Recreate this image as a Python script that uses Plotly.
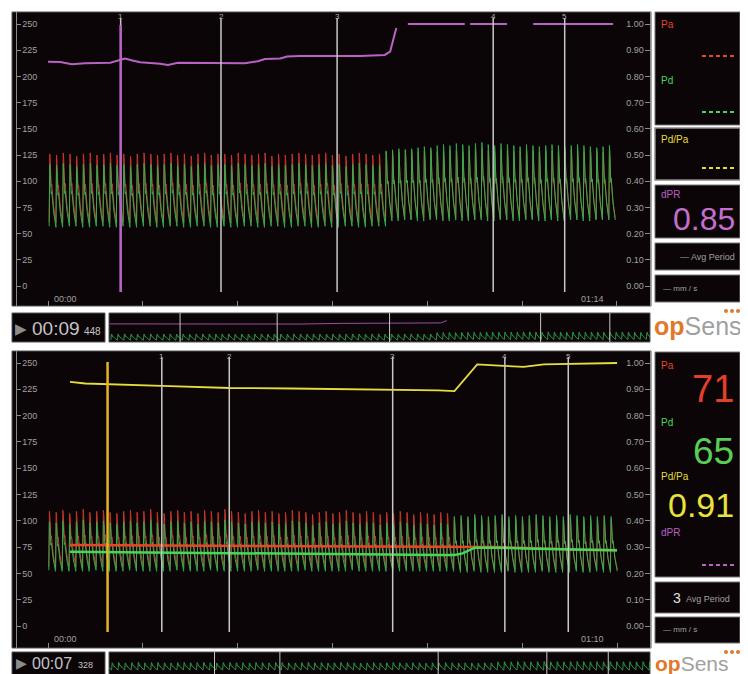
import plotly.graph_objects as go

# page body has an 8px margin: the figure is drawn from (8, 8) of the window
OFF = 8
W, H = 740, 666

# ---------------- data ----------------
# beat template (fraction of beat, fraction of pulse amplitude)
beat_phase = [0.0, 0.09, 0.15, 0.30, 0.38, 0.65, 1.0]
beat_level = [0.0, 1.0, 0.93, 0.52, 0.56, 0.24, 0.0]

# ---- top recording (01:14) ----
top_start = 0.15
top_rr = [0.88, 0.87, 0.88, 0.86, 0.88, 0.89, 0.87, 0.88, 0.87, 0.86,
          0.88, 0.88, 0.87, 0.89, 0.88, 0.87, 0.86, 0.88, 0.87, 0.88,
          0.89, 0.87, 0.88, 0.86, 0.87, 0.88, 0.88, 0.87, 0.89, 0.88,
          0.87, 0.86, 0.88, 0.87, 0.88, 0.89, 0.87, 0.88, 0.86, 0.87,
          0.88, 0.87, 0.88, 0.89, 0.87, 0.86, 0.88, 0.87, 0.88, 0.87,
          0.83, 0.82, 0.84, 0.83, 0.83, 0.82, 0.84, 0.83, 0.82, 0.83,
          0.84, 0.83, 0.82, 0.83, 0.84, 0.83, 0.83, 0.82, 0.84, 0.83,
          0.82, 0.83, 0.84, 0.83, 0.83, 0.82, 0.83, 0.84, 0.83, 0.82,
          0.83, 0.84, 0.83, 0.82, 0.83, 0.83]
top_pa_sys = [126, 125, 127, 126, 124, 126, 127, 125, 126, 127,
              125, 126, 124, 126, 127, 126, 125, 126, 127, 125,
              126, 124, 126, 127, 125, 126, 126, 125, 127, 126,
              125, 126, 127, 124, 126, 125, 126, 127, 126, 125,
              126, 127, 125, 126, 124, 126, 127, 126, 125, 126,
              128, 129, 128, 130, 129, 128, 129, 130, 128, 129,
              130, 129, 128, 129, 130, 131, 129, 128, 130, 129,
              128, 129, 130, 129, 128, 130, 129, 128, 129, 130,
              129, 128, 130, 129, 128, 129]
top_pa_dia = [61, 60, 61, 62, 61, 60, 61, 61, 62, 60,
              61, 61, 60, 62, 61, 61, 60, 61, 62, 61,
              60, 61, 61, 62, 60, 61, 61, 60, 62, 61,
              61, 60, 61, 62, 61, 60, 61, 61, 62, 60,
              61, 61, 60, 62, 61, 61, 60, 61, 62, 61,
              65, 66, 65, 64, 65, 66, 65, 65, 64, 66,
              65, 65, 66, 64, 65, 65, 66, 65, 64, 65,
              66, 65, 65, 64, 65, 66, 65, 65, 64, 66,
              65, 65, 66, 64, 65, 65]
top_pd_sys = [116, 115, 117, 116, 114, 116, 117, 115, 116, 117,
              115, 116, 114, 116, 117, 116, 115, 116, 117, 115,
              116, 114, 116, 117, 115, 116, 116, 115, 117, 116,
              115, 116, 117, 114, 116, 115, 116, 117, 116, 115,
              116, 117, 115, 116, 114, 116, 117, 116, 115, 116,
              129, 130, 131, 130, 131, 132, 133, 132, 134, 135,
              134, 136, 135, 134, 136, 137, 135, 134, 136, 135,
              134, 133, 135, 134, 133, 134, 135, 134, 133, 134,
              135, 134, 133, 132, 133, 134]
top_pd_dia = [57, 56, 57, 58, 57, 56, 57, 57, 58, 56,
              57, 57, 56, 58, 57, 57, 56, 57, 58, 57,
              56, 57, 57, 58, 56, 57, 57, 56, 58, 57,
              57, 56, 57, 58, 57, 56, 57, 57, 58, 56,
              57, 57, 56, 58, 57, 57, 56, 57, 58, 57,
              63, 62, 63, 64, 63, 62, 63, 63, 64, 62,
              63, 63, 62, 64, 63, 63, 62, 63, 64, 63,
              62, 63, 63, 64, 62, 63, 63, 62, 64, 63,
              63, 62, 63, 64, 63, 63]
top_dpr_t = [0.0, 1.6, 3.1, 4.8, 8.1, 9.1, 10.0, 11.1, 12.0, 14.6, 15.6, 16.9,
             19.8, 23.7, 25.6, 27.3, 28.2, 30.2, 31.1, 32.8, 38.0, 40.6, 43.8,
             44.5, 44.9, 45.3, None,
             46.8, 54.2, None, 54.9, 59.7, None, 63.1, 73.5]
top_dpr = [0.856, 0.855, 0.846, 0.850, 0.852, 0.862, 0.868, 0.860, 0.854, 0.848,
           0.844, 0.852, 0.852, 0.852, 0.850, 0.858, 0.866, 0.868, 0.876, 0.878,
           0.878, 0.878, 0.882, 0.895, 0.940, 0.985, None,
           1.0, 1.0, None, 1.0, 1.0, None, 1.0, 1.0]
top_dpr_solid_n = 26          # points of the continuous part (shown in the overview strip)
top_markers = [9.45, 22.5, 37.6, 57.9, 67.2]
top_cursor = 9.448
top_time_ticks = [0, 12.33, 24.67, 37.0, 49.33, 61.67, 74]
top_time_labels = ["00:00", "01:14"]

# ---- bottom recording (01:10) ----
bot_start = 0.1
bot_rr = [0.83, 0.82, 0.84, 0.83, 0.83, 0.82, 0.84, 0.83, 0.82, 0.83,
          0.84, 0.83, 0.82, 0.83, 0.84, 0.82, 0.83, 0.83, 0.84, 0.82,
          0.83, 0.84, 0.82, 0.83, 0.83, 0.84, 0.82, 0.83, 0.84, 0.83,
          0.82, 0.83, 0.84, 0.83, 0.82, 0.83, 0.83, 0.84, 0.82, 0.83,
          0.84, 0.83, 0.82, 0.83, 0.83, 0.84, 0.82, 0.83, 0.84, 0.82,
          0.83, 0.83, 0.84, 0.82, 0.83, 0.84, 0.83, 0.82, 0.83, 0.84,
          0.84, 0.83, 0.85, 0.84, 0.83, 0.84, 0.85, 0.83, 0.84, 0.83,
          0.84, 0.85, 0.83, 0.84, 0.84, 0.83, 0.85, 0.84, 0.83, 0.84,
          0.83, 0.84, 0.85, 0.84]
bot_pa_sys = [109, 108, 110, 107, 109, 111, 108, 109, 110, 108,
              107, 109, 110, 108, 109, 111, 108, 107, 109, 110,
              108, 109, 107, 110, 109, 108, 111, 109, 108, 107,
              109, 110, 108, 109, 107, 108, 110, 109, 108, 106,
              108, 109, 107, 108, 110, 108, 107, 109, 108, 106,
              108, 107, 109, 108, 106, 108, 107, 106, 108, 107,
              101, 102, 101, 103, 102, 101, 102, 103, 101, 102,
              101, 102, 103, 102, 101, 102, 101, 103, 102, 101,
              102, 101, 102, 101]
bot_pa_dia = [56, 55, 56, 57, 56, 55, 56, 56, 57, 55,
              56, 56, 55, 57, 56, 56, 55, 56, 57, 56,
              55, 56, 56, 57, 55, 56, 56, 55, 57, 56,
              56, 55, 56, 57, 56, 55, 56, 56, 57, 55,
              56, 56, 55, 57, 56, 56, 55, 56, 57, 56,
              55, 56, 56, 55, 56, 55, 56, 56, 55, 56,
              54, 53, 54, 54, 53, 54, 54, 53, 54, 54,
              53, 54, 54, 53, 54, 54, 53, 54, 54, 53,
              54, 54, 53, 54]
bot_pd_sys = [99, 98, 100, 97, 99, 101, 98, 99, 100, 98,
              97, 99, 100, 98, 99, 101, 98, 97, 99, 100,
              98, 99, 97, 100, 99, 98, 101, 99, 98, 97,
              99, 100, 98, 99, 97, 98, 100, 99, 98, 96,
              98, 99, 97, 98, 100, 98, 97, 99, 98, 96,
              98, 97, 99, 98, 96, 98, 97, 96, 98, 97,
              104, 105, 104, 106, 105, 104, 105, 106, 104, 105,
              104, 105, 106, 105, 104, 105, 104, 106, 105, 104,
              105, 104, 105, 104]
bot_pd_dia = [53, 52, 53, 52, 53, 52, 53, 53, 52, 53,
              52, 53, 53, 52, 53, 52, 53, 52, 53, 53,
              52, 53, 52, 53, 53, 52, 53, 52, 53, 52,
              53, 53, 52, 53, 52, 53, 52, 53, 53, 52,
              53, 52, 53, 52, 53, 53, 52, 53, 52, 53,
              52, 53, 52, 53, 52, 52, 53, 52, 52, 53,
              52, 51, 52, 52, 51, 52, 51, 52, 52, 51,
              52, 51, 52, 52, 51, 52, 51, 52, 52, 51,
              52, 52, 51, 52]
bot_mean_t = [2.7, 10.0, 20.0, 30.0, 40.0, 48.0, 50.0, 51.0, 52.5, 55.0, 60.0, 65.0, 70.0]
bot_pa_mean = [77.0, 76.8, 76.5, 76.0, 75.6, 75.5, 75.2, 75.0, 75.0, 75.0, 74.0, 72.5, 72.0]
bot_pd_mean = [70.6, 70.0, 69.2, 68.5, 68.0, 67.5, 67.5, 69.0, 74.5, 74.5, 73.5, 72.5, 72.0]
bot_pdpa_t = [2.7, 4.6, 14.0, 22.3, 30.0, 40.8, 48.0, 50.0, 51.0, 52.8, 55.5, 58.5, 61.0, 65.0, 70.0]
bot_pdpa = [0.928, 0.922, 0.913, 0.905, 0.903, 0.900, 0.896, 0.893, 0.930, 0.995,
            0.990, 0.985, 0.995, 0.998, 1.000]
bot_markers = [14.0, 22.3, 42.4, 56.2, 64.0]
bot_cursor = 7.328
bot_time_ticks = [0, 11.67, 23.33, 35.0, 46.67, 58.33, 70]
bot_time_labels = ["00:00", "01:10"]

marker_labels = ["1", "2", "3", "4", "5"]
left_ticks = [0, 25, 50, 75, 100, 125, 150, 175, 200, 225, 250]
right_ticks = [0.0, 0.1, 0.2, 0.3, 0.4, 0.5, 0.6, 0.7, 0.8, 0.9, 1.0]

# ---------------- styling ----------------
PA_C = "rgb(210,58,44)"
PD_C = "rgb(48,178,82)"
PAM_C = "rgb(232,70,40)"
PDM_C = "rgb(70,215,90)"
DPR_C = "rgb(186,98,196)"
PDPA_C = "rgb(228,222,60)"
GRID_C = "#8a8a8a"
TXT_C = "#a0a0a0"
PANEL = "#0c0508"
FONT = "Liberation Sans, Arial, sans-serif"


def X(px):
    return (px - OFF) / W


def Y(py):
    return 1 - (py - OFF) / H


def build_wave(start, rr, sys_, dia_):
    xs, ys = [], []
    t0 = start
    for d, s, lo in zip(rr, sys_, dia_):
        for ph, lv in zip(beat_phase, beat_level):
            xs.append(t0 + ph * d)
            ys.append(lo + lv * (s - lo))
        t0 += d
    return xs, ys


top_pa_x, top_pa_y = build_wave(top_start, top_rr, top_pa_sys, top_pa_dia)
top_pd_x, top_pd_y = build_wave(top_start, top_rr, top_pd_sys, top_pd_dia)
bot_pa_x, bot_pa_y = build_wave(bot_start, bot_rr, bot_pa_sys, bot_pa_dia)
bot_pd_x, bot_pd_y = build_wave(bot_start, bot_rr, bot_pd_sys, bot_pd_dia)

fig = go.Figure()


def add(x, y, color, width, xa, ya, opacity=1.0):
    fig.add_trace(go.Scatter(x=x, y=y, mode="lines", xaxis=xa, yaxis=ya,
                             line=dict(color=color, width=width),
                             opacity=opacity, hoverinfo="skip",
                             connectgaps=False, showlegend=False))


add(top_pa_x, top_pa_y, PA_C, 1, "x", "y", 0.95)
add(top_pd_x, top_pd_y, PD_C, 1, "x", "y", 0.95)
add(top_dpr_t, top_dpr, DPR_C, 2, "x", "y2")

add(bot_pa_x, bot_pa_y, PA_C, 1, "x3", "y3", 0.95)
add(bot_pd_x, bot_pd_y, PD_C, 1, "x3", "y3", 0.95)
add(bot_mean_t, bot_pa_mean, PAM_C, 2.5, "x3", "y3")
add(bot_mean_t, bot_pd_mean, PDM_C, 2.5, "x3", "y3")
add(bot_pdpa_t, bot_pdpa, PDPA_C, 1.8, "x3", "y4")

add(top_pd_x, top_pd_y, PD_C, 0.8, "x5", "y5")
add(top_dpr_t[:top_dpr_solid_n], top_dpr[:top_dpr_solid_n], DPR_C, 1, "x5", "y7", 0.8)
add(bot_pd_x, bot_pd_y, PD_C, 0.8, "x6", "y6")

# pixel geometry of the two main panels (window pixels)
T_PPS, T_X0 = 7.689, 48      # top: px per second, px of t=0
T_PPU, T_Y0 = 1.048, 286     # top: px per mmHg, px of 0 mmHg
B_PPS, B_X0 = 8.129, 48
B_PPU, B_Y0 = 1.052, 626

top_xr = [(17 - T_X0) / T_PPS, (650 - T_X0) / T_PPS]
top_yr = [(T_Y0 - 306) / T_PPU, (T_Y0 - 12) / T_PPU]
bot_xr = [(17 - B_X0) / B_PPS, (650 - B_X0) / B_PPS]
bot_yr = [(B_Y0 - 648) / B_PPU, (B_Y0 - 351) / B_PPU]

tick_font = dict(size=9, color=TXT_C, family=FONT)


def xax(dom, rng, anchor, ticks):
    return dict(domain=dom, range=rng, anchor=anchor, tickvals=ticks,
                ticks="inside", ticklen=5, tickcolor=GRID_C, tickwidth=1,
                showticklabels=False, showgrid=False, zeroline=False,
                showline=False, fixedrange=True)


def yax(dom, rng, anchor):
    return dict(domain=dom, range=rng, anchor=anchor, tickvals=left_ticks,
                ticks="inside", ticklen=4, tickcolor=GRID_C,
                ticklabelposition="inside", tickfont=tick_font,
                showline=True, linecolor=GRID_C, linewidth=1,
                showgrid=False, zeroline=False, automargin=False,
                fixedrange=True)


def y2ax(over, rng, anchor):
    return dict(overlaying=over, side="right", anchor=anchor,
                range=[rng[0] / 250, rng[1] / 250], tickvals=right_ticks,
                tickformat=".2f", ticks="inside", ticklen=5,
                tickcolor=GRID_C, ticklabelposition="inside",
                tickfont=tick_font, showline=True, linecolor=GRID_C,
                linewidth=1, showgrid=False, zeroline=False,
                automargin=False, fixedrange=True)


hidden = dict(visible=False, fixedrange=True)

shapes = []


def rect(x0, y0, x1, y1, fill=PANEL, line="#555", lw=1):
    shapes.append(dict(type="rect", xref="paper", yref="paper",
                       x0=X(x0), x1=X(x1), y0=Y(y1), y1=Y(y0),
                       fillcolor=fill, line=dict(color=line, width=lw),
                       layer="below"))


# panels
rect(12, 12, 651, 306)
rect(12, 313, 105, 342)
rect(109, 313, 650, 342)
rect(655, 12, 740, 125, line="#777")
rect(655, 128, 740, 180, line="#8a8a8a", lw=1.5)
rect(655, 185, 740, 238, line="#777")
rect(655, 243, 740, 270, line="#777")
rect(655, 275, 740, 302, line="#777")
rect(12, 351, 651, 648)
rect(12, 652, 105, 678)
rect(109, 652, 650, 678)
rect(655, 352, 740, 577, line="#777")
rect(655, 582, 740, 613, line="#777")
rect(655, 617, 740, 643, line="#777")

# marker lines
for t in top_markers:
    shapes.append(dict(type="line", xref="x", yref="y", x0=t, x1=t,
                       y0=(T_Y0 - 292) / T_PPU, y1=(T_Y0 - 18) / T_PPU,
                       line=dict(color="#c8c8c8", width=1.5)))
    shapes.append(dict(type="line", xref="x5", yref="y5 domain", x0=t, x1=t,
                       y0=0, y1=1, line=dict(color="#c8c8c8", width=1)))
for t in bot_markers:
    shapes.append(dict(type="line", xref="x3", yref="y3", x0=t, x1=t,
                       y0=(B_Y0 - 632) / B_PPU, y1=(B_Y0 - 357) / B_PPU,
                       line=dict(color="#c8c8c8", width=1.5)))
    shapes.append(dict(type="line", xref="x6", yref="y6 domain", x0=t, x1=t,
                       y0=0, y1=1, line=dict(color="#c8c8c8", width=1)))
# cursors
shapes.append(dict(type="line", xref="x", yref="y", x0=top_cursor, x1=top_cursor,
                   y0=(T_Y0 - 292) / T_PPU, y1=(T_Y0 - 25) / T_PPU,
                   line=dict(color="rgb(186,98,196)", width=2.5)))
shapes.append(dict(type="line", xref="x3", yref="y3", x0=bot_cursor, x1=bot_cursor,
                   y0=(B_Y0 - 632) / B_PPU, y1=(B_Y0 - 362) / B_PPU,
                   line=dict(color="rgb(226,182,36)", width=2.5)))

# "no value" dashes in side panels
for (x0, x1, yy, c) in [(702, 736, 56, PAM_C), (702, 736, 112, PDM_C),
                        (702, 736, 168, PDPA_C), (702, 736, 565, DPR_C)]:
    shapes.append(dict(type="line", xref="paper", yref="paper",
                       x0=X(x0), x1=X(x1), y0=Y(yy), y1=Y(yy),
                       line=dict(color=c, width=2, dash="4px,3px")))

# logo dots
for cy in [311, 652]:
    for cx in [726, 732, 738]:
        shapes.append(dict(type="circle", xref="paper", yref="paper",
                           x0=X(cx - 2), x1=X(cx + 2), y0=Y(cy + 2), y1=Y(cy - 2),
                           fillcolor="#e2782a", line=dict(width=0)))

ann = []


def txt(px, py, s, size, color, anchor="left", ya="middle"):
    ann.append(dict(x=X(px), y=Y(py), xref="paper", yref="paper", text=s,
                    showarrow=False, xanchor=anchor, yanchor=ya,
                    font=dict(size=size, color=color, family=FONT)))


# marker numbers
for t, lab in zip(top_markers, marker_labels):
    ann.append(dict(x=t, y=(T_Y0 - 17) / T_PPU, xref="x", yref="y", text=lab,
                    showarrow=False, font=dict(size=8, color="#b0b0b0", family=FONT)))
for t, lab in zip(bot_markers, marker_labels):
    ann.append(dict(x=t, y=(B_Y0 - 356) / B_PPU, xref="x3", yref="y3", text=lab,
                    showarrow=False, font=dict(size=8, color="#b0b0b0", family=FONT)))

# time labels
txt(52, 299, top_time_labels[0], 9, TXT_C)
txt(606, 299, top_time_labels[1], 9, TXT_C, "right")
txt(52, 639, bot_time_labels[0], 9, TXT_C)
txt(606, 639, bot_time_labels[1], 9, TXT_C, "right")

# cursor time boxes
txt(21, 328, "▶", 15, "#8c8c8c", "center")
txt(30, 328, "00:09", 19, "#c4c4c4")
txt(82, 331, "448", 10, "#c4c4c4")
txt(21, 663, "▶", 14, "#8c8c8c", "center")
txt(30, 663, "00:07", 16, "#c4c4c4")
txt(76, 665, "328", 9, "#c4c4c4")

# side panel top
txt(659, 24, "Pa", 10, PAM_C)
txt(659, 80, "Pd", 10, PDM_C)
txt(659, 139, "Pd/Pa", 10, PDPA_C)
txt(659, 195, "dPR", 10, DPR_C)
txt(737, 219, "0.85", 32, "rgb(196,110,206)", "right")
txt(737, 257, "— Avg Period", 9, TXT_C, "right")
txt(661, 288, "— mm / s", 8, TXT_C)

# side panel bottom
txt(659, 365, "Pa", 10, PAM_C)
txt(736, 389, "71", 38, "rgb(226,64,40)", "right")
txt(659, 422, "Pd", 10, PDM_C)
txt(736, 451, "65", 37, "rgb(88,206,84)", "right")
txt(659, 477, "Pd/Pa", 10, PDPA_C)
txt(736, 505, "0.91", 34, "rgb(232,226,60)", "right")
txt(659, 532, "dPR", 10, DPR_C)
txt(677, 598, "3", 14, "#e0e0e0", "center")
txt(684, 599, "Avg Period", 9, TXT_C)
txt(661, 629, "— mm / s", 8, TXT_C)

# logos
logo = "<b><span style='color:#e2782a'>op</span></b><span style='color:#a0a0a0'>Sens</span>"
txt(652, 326, logo, 25, "#a0a0a0")
txt(653, 663, logo, 21, "#a0a0a0")

fig.update_layout(
    width=W, height=H, margin=dict(l=0, r=0, t=0, b=0),
    paper_bgcolor="white", plot_bgcolor="rgba(0,0,0,0)",
    showlegend=False, font=dict(family=FONT),
    xaxis=xax([X(17), X(650)], top_xr, "y", top_time_ticks),
    yaxis=yax([Y(306), Y(12)], top_yr, "x"),
    yaxis2=y2ax("y", top_yr, "x"),
    xaxis3=xax([X(17), X(650)], bot_xr, "y3", bot_time_ticks),
    yaxis3=yax([Y(648), Y(351)], bot_yr, "x3"),
    yaxis4=y2ax("y3", bot_yr, "x3"),
    xaxis5=dict(domain=[X(109), X(650)], range=[-0.1, 72.6], anchor="y5", **hidden),
    yaxis5=dict(domain=[Y(342), Y(313)], range=[38, 320], anchor="x5", **hidden),
    yaxis7=dict(overlaying="y5", range=[38 / 250, 320 / 250], anchor="x5", **hidden),
    xaxis6=dict(domain=[X(109), X(650)], range=[0.6, 69.3], anchor="y6", **hidden),
    yaxis6=dict(domain=[0, Y(652)], range=[26, 167], anchor="x6", **hidden),
    shapes=shapes, annotations=ann,
)

fig.write_html("out.html")
